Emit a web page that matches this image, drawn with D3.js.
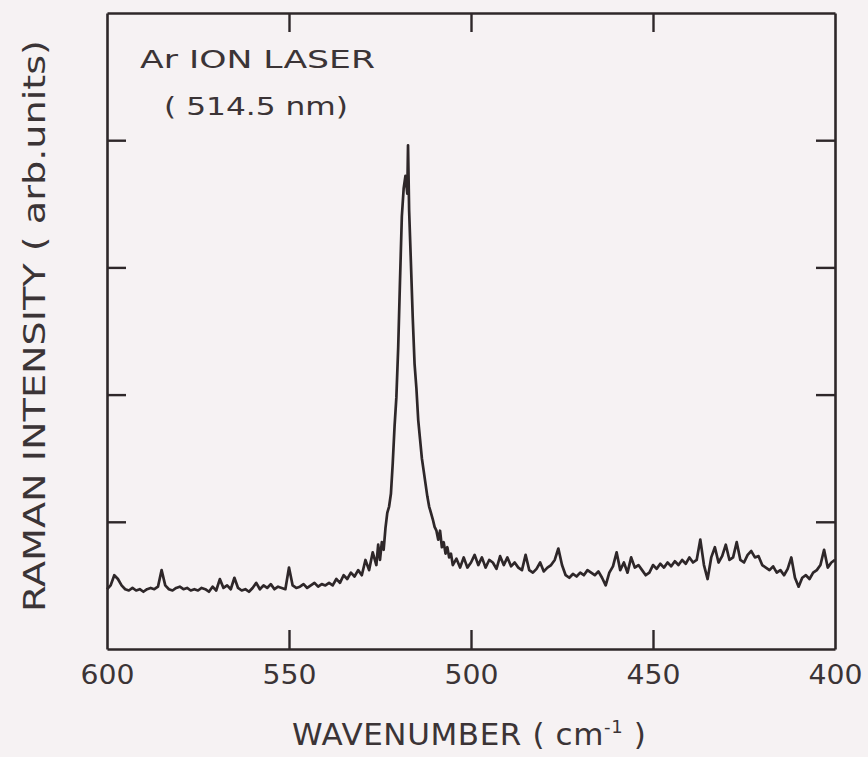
<!DOCTYPE html>
<html>
<head>
<meta charset="utf-8">
<script src="https://cdn.jsdelivr.net/npm/d3@7/dist/d3.min.js"></script>
<style>
  html, body { margin: 0; padding: 0; background: #f6f2f3; }
  svg { display: block; }
  text { font-family: "DejaVu Sans", sans-serif; fill: #3b3436; }
</style>
</head>
<body>
<svg id="chart" width="868" height="757"></svg>
<script>
// ---- data ----
const wavenumber = [
  600,599,598,597,596,595,594,593,592,591,590,589,588,587,586,585,584,583,582,581,
  580,579,578,577,576,575,574,573,572,571,570,569,568,567,566,565,564,563,562,561,
  560,559,558,557,556,555,554,553,552,551,550,549,548,547,546,545,544,543,542,541,
  540,539,538,537,536,535,534,533,532,531,530,529,528,527,526,
  525.5,525,524.5,524,523.5,523,522.5,522,521.5,521,520.5,520,519.5,519,518.5,518,517.5,517.3,517,
  516.5,516,515.5,515,514.5,514,513.5,513,512.5,512,511.5,511,510.5,510,509.5,509,508.5,508,507.5,507,
  506.5,506,505.5,505,
  504,503,502,501,500,499,498,497,496,495,494,493,492,491,490,489,488,487,486,485,
  484,483,482,481,480,479,478,477,476,475,474,473,472,471,470,469,468,467,466,465,
  464,463,462,461,460,459,458,457,456,455,454,453,452,451,450,449,448,447,446,445,
  444,443,442,441,440,439,438,437,436,435,434,433,432,431,430,429,428,427,426,425,
  424,423,422,421,420,419,418,417,416,415,414,413,412,411,410,409,408,407,406,405,
  404,403,402,401,400
];
const intensity = [
  0.47,0.50,0.58,0.55,0.50,0.47,0.46,0.48,0.46,0.47,0.45,0.47,0.48,0.47,0.49,0.62,0.50,0.47,0.46,0.48,
  0.49,0.47,0.48,0.46,0.47,0.46,0.48,0.47,0.45,0.49,0.46,0.55,0.48,0.50,0.47,0.56,0.48,0.46,0.47,0.45,
  0.48,0.52,0.47,0.50,0.48,0.51,0.47,0.49,0.48,0.47,0.64,0.50,0.48,0.49,0.51,0.48,0.50,0.52,0.49,0.51,
  0.50,0.52,0.50,0.55,0.52,0.58,0.55,0.60,0.57,0.62,0.58,0.70,0.62,0.76,0.66,
  0.82,0.70,0.84,0.78,0.95,1.07,1.12,1.22,1.46,1.75,1.98,2.37,2.90,3.40,3.62,3.72,3.58,3.96,3.45,
  3.03,2.60,2.24,2.05,1.80,1.65,1.50,1.40,1.30,1.20,1.12,1.07,1.02,0.96,0.93,0.86,0.93,0.80,0.84,0.75,
  0.80,0.72,0.75,0.66,
  0.71,0.64,0.72,0.64,0.68,0.74,0.66,0.72,0.64,0.70,0.68,0.63,0.73,0.66,0.72,0.65,0.68,0.64,0.62,0.74,
  0.62,0.60,0.63,0.68,0.61,0.64,0.66,0.70,0.79,0.66,0.58,0.56,0.59,0.57,0.60,0.58,0.62,0.60,0.58,0.61,
  0.56,0.50,0.60,0.65,0.76,0.62,0.68,0.60,0.72,0.64,0.66,0.62,0.58,0.60,0.66,0.63,0.67,0.64,0.68,0.65,
  0.69,0.66,0.70,0.67,0.72,0.68,0.70,0.86,0.66,0.55,0.72,0.80,0.68,0.73,0.82,0.70,0.72,0.84,0.70,0.68,
  0.74,0.77,0.72,0.73,0.66,0.64,0.62,0.65,0.60,0.62,0.58,0.63,0.72,0.56,0.49,0.56,0.58,0.55,0.60,0.62,
  0.66,0.78,0.64,0.68,0.70
];
const xTicks = [600, 550, 500, 450, 400];
const yTicks = [1, 2, 3, 4];
const xDomain = [600, 400];
const yDomain = [0, 5];
const titleText = ["Ar ION LASER", "( 514.5 nm)"];
const xLabel = "WAVENUMBER ( cm";
const yLabel = "RAMAN INTENSITY ( arb.units)";

// ---- layout ----
const svg = d3.select("#chart");
const L = 107, R = 835, T = 13, B = 649;
const ink = "#2e2729";

const x = d3.scaleLinear().domain(xDomain).range([L, R]);
const y = d3.scaleLinear().domain(yDomain).range([B, T]);

const data = wavenumber.map((w, i) => ({ w, v: intensity[i] }));

// spectrum
svg.append("path")
  .datum(data)
  .attr("fill", "none")
  .attr("stroke", ink)
  .attr("stroke-width", 2.7)
  .attr("stroke-linejoin", "round")
  .attr("d", d3.line().x(d => x(d.w)).y(d => y(d.v)));

// axes (inward ticks on all four sides)
const tickLen = 19;
const styleAxis = g => {
  g.select(".domain").attr("stroke", ink).attr("stroke-width", 2.6);
  g.selectAll(".tick line").attr("stroke", ink).attr("stroke-width", 2.4);
};

svg.append("g")
  .attr("transform", `translate(0,${B})`)
  .call(d3.axisBottom(x).tickValues(xTicks).tickSizeInner(-tickLen).tickSizeOuter(0).tickPadding(35).tickFormat(d3.format("d")))
  .call(styleAxis)
  .call(g => g.selectAll(".tick text")
      .attr("font-size", 26).attr("font-family", "DejaVu Sans, sans-serif")
      .attr("fill", "#3b3436").attr("dy", "0")
      .attr("textLength", 54).attr("lengthAdjust", "spacingAndGlyphs"))
  .call(g => g.selectAll(".tick").filter(d => d === 600 || d === 400).select("line").remove());

svg.append("g")
  .attr("transform", `translate(0,${T})`)
  .call(d3.axisTop(x).tickValues(xTicks.slice(1, -1)).tickSizeInner(-tickLen).tickSizeOuter(0).tickFormat(""))
  .call(styleAxis);

svg.append("g")
  .attr("transform", `translate(${L},0)`)
  .call(d3.axisLeft(y).tickValues(yTicks).tickSizeInner(-tickLen).tickSizeOuter(0).tickFormat(""))
  .call(styleAxis);

svg.append("g")
  .attr("transform", `translate(${R},0)`)
  .call(d3.axisRight(y).tickValues(yTicks).tickSizeInner(-tickLen).tickSizeOuter(0).tickFormat(""))
  .call(styleAxis);

// annotation
svg.append("text").attr("x", 140).attr("y", 68).attr("font-size", 25)
  .attr("textLength", 235).attr("lengthAdjust", "spacingAndGlyphs").text(titleText[0]);
svg.append("text").attr("x", 164).attr("y", 115).attr("font-size", 25)
  .attr("textLength", 184).attr("lengthAdjust", "spacingAndGlyphs").text(titleText[1]);

// x-axis title
const xt = svg.append("text").attr("x", 292).attr("y", 745).attr("font-size", 31)
  .attr("letter-spacing", 0.6);
xt.append("tspan").text(xLabel);
xt.append("tspan").attr("font-size", 18).attr("dy", -12).text("-1");
xt.append("tspan").attr("dy", 12).text(" )");

// y-axis title
svg.append("text")
  .attr("transform", "translate(45,326) rotate(-90)")
  .attr("text-anchor", "middle")
  .attr("font-size", 30)
  .attr("textLength", 572).attr("lengthAdjust", "spacingAndGlyphs")
  .text(yLabel);
</script>
</body>
</html>
